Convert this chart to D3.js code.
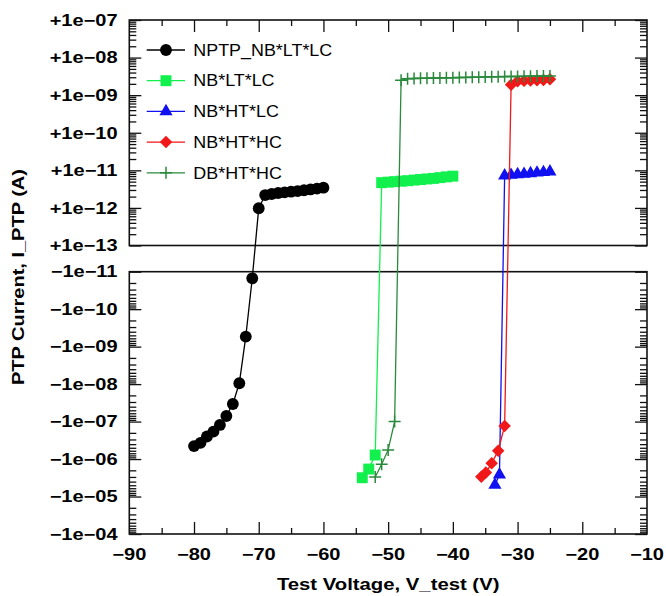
<!DOCTYPE html>
<html><head><meta charset="utf-8">
<script src="https://cdn.jsdelivr.net/npm/d3@7"></script>
<style>body{margin:0;background:#fff}svg{display:block}</style>
</head><body>
<svg id="c" width="666" height="596"></svg>
<script>
// ---------- data ----------
const xTickValues = [-90,-80,-70,-60,-50,-40,-30,-20,-10];
const xTickLabels = ["\u221290","\u221280","\u221270","\u221260","\u221250","\u221240","\u221230","\u221220","\u221210"];
const posTickValues = [1e-7,1e-8,1e-9,1e-10,1e-11,1e-12,1e-13];
const posTickLabels = ["+1e\u221207","+1e\u221208","+1e\u221209","+1e\u221210","+1e\u221211","+1e\u221212","+1e\u221213"];
const negTickValues = [1e-11,1e-10,1e-9,1e-8,1e-7,1e-6,1e-5,1e-4];
const negTickLabels = ["\u22121e\u221211","\u22121e\u221210","\u22121e\u221209","\u22121e\u221208","\u22121e\u221207","\u22121e\u221206","\u22121e\u221205","\u22121e\u221204"];

const seriesNames = ["NPTP_NB*LT*LC","NB*LT*LC","NB*HT*LC","NB*HT*HC","DB*HT*HC"];
const seriesColors = ["#000000","#12f04e","#1010f0","#f01818","#2a8a3c"];
const seriesSymbols = ["circle","square","triangle","diamond","plus"];

const v_nptp = [-80,-79,-78,-77,-76,-75,-74,-73,-72,-71,-70,-69,-68,-67,-66,-65,-64,-63,-62,-61,-60];
const i_nptp = [-4.5e-7,-3.7e-7,-2.5e-7,-1.86e-7,-1.23e-7,-7.1e-8,-3.4e-8,-9.5e-9,-5.4e-10,-1.5e-11,
                9.8e-13,2.2e-12,2.35e-12,2.5e-12,2.6e-12,2.7e-12,2.8e-12,2.95e-12,3.1e-12,3.25e-12,3.45e-12];

const v_nbltlc = [-54,-53,-52,-51,-50,-49,-48,-47,-46,-45,-44,-43,-42,-41,-40];
const i_nbltlc = [-3.15e-6,-1.85e-6,-7.8e-7,4.7e-12,4.85e-12,5.0e-12,5.15e-12,5.3e-12,5.5e-12,5.7e-12,5.9e-12,6.1e-12,6.4e-12,6.7e-12,7.0e-12];

const v_nbhtlc = [-33.5,-32.8,-32,-31,-30,-29,-28,-27,-26,-25];
const i_nbhtlc = [-4.9e-6,-2.6e-6,7.2e-12,7.5e-12,7.8e-12,8.0e-12,8.3e-12,8.6e-12,8.9e-12,9.2e-12];

const v_nbhthc = [-35.6,-34.9,-34,-33,-32,-31,-30,-29,-28,-27,-26,-25];
const i_nbhthc = [-2.96e-6,-2.3e-6,-1.3e-6,-6.0e-7,-1.31e-7,1.9e-9,2.35e-9,2.4e-9,2.45e-9,2.5e-9,2.55e-9,2.65e-9];

const v_dbhthc = [-52,-51,-50,-49,-48,-47,-46,-45,-44,-43,-42,-41,-40,-39,-38,-37,-36,-35,-34,-33,-32,-31,-30,-29,-28,-27,-26,-25];
const i_dbhthc = [-3.0e-6,-1.38e-6,-5.7e-7,-1.0e-7,
                  2.5e-9,2.75e-9,2.78e-9,2.8e-9,2.82e-9,2.85e-9,2.87e-9,2.9e-9,2.92e-9,2.95e-9,2.97e-9,3.0e-9,
                  3.02e-9,3.05e-9,3.07e-9,3.1e-9,3.12e-9,3.14e-9,3.16e-9,3.18e-9,3.2e-9,3.22e-9,3.24e-9,3.26e-9];

const seriesV = [v_nptp, v_nbltlc, v_nbhtlc, v_nbhthc, v_dbhthc];
const seriesI = [i_nptp, i_nbltlc, i_nbhtlc, i_nbhthc, i_dbhthc];

// ---------- layout ----------
const L = 129.3, R = 647, topT = 20, topB = 245.5, botT = 271.7, botB = 534;
const svg = d3.select("#c");
const FONT = "'Liberation Sans', Arial, Helvetica, sans-serif";

const x = d3.scaleLinear().domain([-90,-10]).range([L,R]);
const yPos = d3.scaleLog().domain([1e-13,1e-7]).range([topB,topT]);
const yNeg = d3.scaleLog().domain([1e-11,1e-4]).range([botT,botB]);
const yAny = v => v > 0 ? yPos(v) : yNeg(-v);

function logMinors(lo, hi){
  const out = [];
  for (let e = lo; e < hi; e++) for (let k = 2; k <= 9; k++) out.push(k*Math.pow(10,e));
  return out;
}

function txt(g, tx, ty, s, anchor, sx, opts){
  const t = g.append("text")
    .attr("transform", `translate(${tx},${ty})` + (opts && opts.rot ? ` rotate(${opts.rot})` : "") + ` scale(${sx},1)`)
    .attr("text-anchor", anchor)
    .attr("font-family", FONT)
    .attr("font-size", (opts && opts.size) || 16)
    .attr("font-weight", (opts && opts.weight) || "bold")
    .attr("fill", "#000")
    .text(s);
  if (opts && opts.dy) t.attr("dy", opts.dy);
  return t;
}

const axG = svg.append("g");

function styleAxis(g){
  g.select(".domain").remove();
  g.selectAll("text").remove();
  g.selectAll("line").attr("stroke","#111").attr("stroke-width",1.3);
}

[[yPos, posTickValues, logMinors(-13,-7)], [yNeg, negTickValues, logMinors(-11,-4)]].forEach(([sc, majors, minors]) => {
  axG.append("g").attr("transform",`translate(${L},0)`).call(d3.axisRight(sc).tickValues(majors).tickSize(12).tickSizeOuter(0).tickFormat("")).call(styleAxis);
  axG.append("g").attr("transform",`translate(${L},0)`).call(d3.axisRight(sc).tickValues(minors).tickSize(7).tickSizeOuter(0).tickFormat("")).call(styleAxis);
  axG.append("g").attr("transform",`translate(${R},0)`).call(d3.axisLeft(sc).tickValues(majors).tickSize(12).tickSizeOuter(0).tickFormat("")).call(styleAxis);
  axG.append("g").attr("transform",`translate(${R},0)`).call(d3.axisLeft(sc).tickValues(minors).tickSize(7).tickSizeOuter(0).tickFormat("")).call(styleAxis);
});

const xMinor = d3.range(-85, -10, 10);
axG.append("g").attr("transform",`translate(0,${topT})`).call(d3.axisBottom(x).tickValues(xTickValues.slice(1,-1)).tickSize(12).tickSizeOuter(0).tickFormat("")).call(styleAxis);
axG.append("g").attr("transform",`translate(0,${topT})`).call(d3.axisBottom(x).tickValues(xMinor).tickSize(6).tickSizeOuter(0).tickFormat("")).call(styleAxis);
axG.append("g").attr("transform",`translate(0,${botB})`).call(d3.axisTop(x).tickValues(xTickValues.slice(1,-1)).tickSize(12).tickSizeOuter(0).tickFormat("")).call(styleAxis);
axG.append("g").attr("transform",`translate(0,${botB})`).call(d3.axisTop(x).tickValues(xMinor).tickSize(6).tickSizeOuter(0).tickFormat("")).call(styleAxis);

svg.append("rect").attr("x",L).attr("y",topT).attr("width",R-L).attr("height",topB-topT).attr("fill","none").attr("stroke","#111").attr("stroke-width",1.6);
svg.append("rect").attr("x",L).attr("y",botT).attr("width",R-L).attr("height",botB-botT).attr("fill","none").attr("stroke","#111").attr("stroke-width",1.6);

const lab = svg.append("g");
posTickValues.forEach((v,i) => txt(lab, 117.5, yPos(v), posTickLabels[i], "end", 1.25, {dy:"0.36em"}));
negTickValues.forEach((v,i) => txt(lab, 117.5, yNeg(v), negTickLabels[i], "end", 1.25, {dy:"0.36em"}));
xTickValues.forEach((v,i) => txt(lab, x(v), 559.5, xTickLabels[i], "middle", 1.25));

txt(lab, (L+R)/2, 590, "Test Voltage, V_test (V)", "middle", 1.27);
txt(lab, 24, (topT+botB)/2, "PTP Current, I_PTP (A)", "middle", 1.25, {rot:-90});

// ---------- marks ----------
function drawMarker(g, type, color){
  if (type === "circle") g.append("path").attr("d", d3.symbol(d3.symbolCircle, 110)()).attr("fill", color);
  else if (type === "square") g.append("path").attr("d", d3.symbol(d3.symbolSquare, 120)()).attr("fill", color);
  else if (type === "triangle") g.append("path").attr("d", d3.symbol(d3.symbolTriangle, 75)()).attr("fill", color);
  else if (type === "diamond") g.append("path").attr("d", d3.symbol(d3.symbolSquare, 78)()).attr("transform","rotate(45)").attr("fill", color);
  else if (type === "plus") g.append("path").attr("d", "M-6,0H6M0,-6V6").attr("stroke", color).attr("stroke-width",1.5).attr("fill","none");
}

const line = d3.line().x(d => x(d[0])).y(d => yAny(d[1]));
const plot = svg.append("g");
seriesV.forEach((vs, s) => {
  const pts = vs.map((v,i) => [v, seriesI[s][i]]);
  const g = plot.append("g");
  g.append("path").attr("d", line(pts)).attr("fill","none").attr("stroke", seriesColors[s]).attr("stroke-width",1.3);
  pts.forEach(p => {
    const m = g.append("g").attr("transform", `translate(${x(p[0])},${yAny(p[1])})`);
    drawMarker(m, seriesSymbols[s], seriesColors[s]);
  });
});

// ---------- legend ----------
const leg = svg.append("g");
seriesNames.forEach((name, s) => {
  const yy = 50 + s*30.7;
  leg.append("line").attr("x1",146.7).attr("x2",185).attr("y1",yy).attr("y2",yy).attr("stroke",seriesColors[s]).attr("stroke-width",1.3);
  const m = leg.append("g").attr("transform",`translate(166,${yy})`);
  drawMarker(m, seriesSymbols[s], seriesColors[s]);
  txt(leg, 193.3, yy, name, "start", 1.12, {weight:"normal", dy:"0.36em"});
});
</script>
</body></html>
